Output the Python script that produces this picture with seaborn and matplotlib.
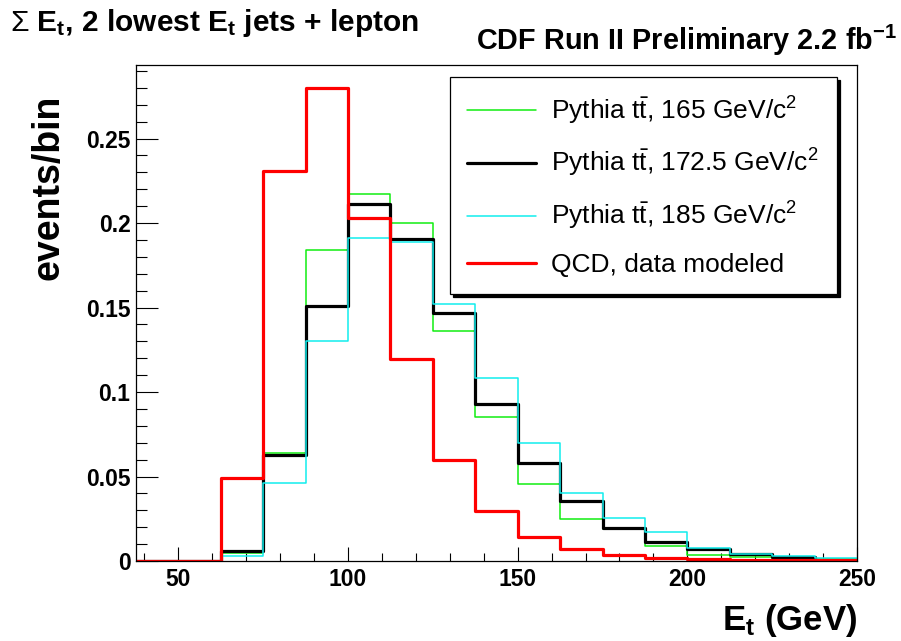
import matplotlib
matplotlib.use("Agg")
import matplotlib.pyplot as plt
from matplotlib.ticker import MultipleLocator, FuncFormatter
import numpy as np
import pandas as pd
import seaborn as sns

# ---- data ----
bin_edges = [37.5, 50, 62.5, 75, 87.5, 100, 112.5, 125, 137.5, 150,
             162.5, 175, 187.5, 200, 212.5, 225, 237.5, 250]
ttbar_165 = [0, 0, 0.005, 0.064, 0.184, 0.217, 0.200, 0.136, 0.085, 0.0455,
             0.025, 0.019, 0.009, 0.0036, 0.0024, 0.002, 0.001]
ttbar_1725 = [0, 0, 0.006, 0.063, 0.151, 0.211, 0.1905, 0.147, 0.093, 0.058,
              0.0355, 0.0195, 0.011, 0.007, 0.004, 0.0026, 0.0005]
ttbar_185 = [0, 0, 0.003, 0.046, 0.130, 0.191, 0.189, 0.152, 0.108, 0.070,
             0.040, 0.0255, 0.017, 0.0077, 0.004, 0.003, 0.002]
qcd = [0, 0, 0.049, 0.231, 0.280, 0.203, 0.1195, 0.060, 0.0296, 0.014,
       0.007, 0.0036, 0.0018, 0.001, 0.0004, 0.0003, 0.0003]

labels = [r"Pythia t$\mathrm{\bar{t}}$, 165 GeV/c$^{2}$",
          r"Pythia t$\mathrm{\bar{t}}$, 172.5 GeV/c$^{2}$",
          r"Pythia t$\mathrm{\bar{t}}$, 185 GeV/c$^{2}$",
          "QCD, data modeled"]
series = [ttbar_165, ttbar_1725, ttbar_185, qcd]
colors = ["#11ee11", "#000000", "#11eeee", "#ff0000"]
widths = [1.1, 2.3, 1.1, 2.3]

# ---- style ----
sns.set_style("ticks")
plt.rcParams["font.family"] = ["Liberation Sans", "DejaVu Sans"]
plt.rcParams["mathtext.fontset"] = "custom"
plt.rcParams["mathtext.rm"] = "Liberation Sans"
plt.rcParams["mathtext.it"] = "Liberation Sans:italic"
plt.rcParams["mathtext.bf"] = "Liberation Sans:bold"
for k in ["text.color", "axes.labelcolor", "xtick.color", "ytick.color", "axes.edgecolor"]:
    plt.rcParams[k] = "black"

fig = plt.figure(figsize=(9.01, 6.41), dpi=100)
ax = fig.add_axes([136/901, 1-561/641, (857-136)/901, (561-65)/641])

centers = [(a + b) / 2 for a, b in zip(bin_edges[:-1], bin_edges[1:])]
for vals, lab, col, lw in zip(series, labels, colors, widths):
    df = pd.DataFrame({"Et": centers, "w": vals})
    sns.histplot(data=df, x="Et", weights="w", bins=list(bin_edges), element="step",
                 fill=False, color=col, linewidth=lw, label=lab, ax=ax)

ax.set_xlim(37.5, 250)
ax.set_ylim(0, 0.2935)
ax.xaxis.set_major_locator(MultipleLocator(50))
ax.xaxis.set_minor_locator(MultipleLocator(10))
ax.yaxis.set_major_locator(MultipleLocator(0.05))
ax.yaxis.set_minor_locator(MultipleLocator(0.01))
ax.yaxis.set_major_formatter(FuncFormatter(lambda v, p: "%g" % round(v, 4)))
ax.tick_params(axis="both", which="both", direction="in", width=0.8,
               bottom=True, left=True, top=False, right=False, colors="black")
ax.tick_params(axis="y", which="major", length=16, pad=4)
ax.tick_params(axis="y", which="minor", length=8)
ax.tick_params(axis="x", which="major", length=10, pad=5)
ax.tick_params(axis="x", which="minor", length=6)
for t in ax.get_xticklabels() + ax.get_yticklabels():
    t.set_fontsize(16.5)
    t.set_fontweight("bold")
for s in ax.spines.values():
    s.set_visible(True)
    s.set_linewidth(0.9)
    s.set_color("black")

ax.set_ylabel("events/bin", fontsize=27, fontweight="bold", loc="top")
ax.yaxis.set_label_coords(-0.096, 0.94)
ax.set_xlabel(r"E$_{\mathbf{t}}$ (GeV)", fontsize=25, fontweight="bold", loc="right")
ax.xaxis.set_label_coords(1.0, -0.082)

fig.text(10/901, 1-31/641, r"$\Sigma$ E$_{\mathbf{t}}$, 2 lowest E$_{\mathbf{t}}$ jets + lepton",
         fontsize=21.5, fontweight="bold", ha="left", va="baseline")
fig.text(897/901, 1-50/641, r"CDF Run II Preliminary 2.2 fb$^{\mathbf{-1}}$",
         fontsize=20.8, fontweight="bold", ha="right", va="baseline")

leg = ax.legend(loc="upper left",
                bbox_to_anchor=(450/901, 1-292/641, 387/901, 215/641),
                bbox_transform=fig.transFigure, borderaxespad=0, mode="expand",
                fontsize=19, frameon=True, fancybox=False,
                shadow={"color": "black", "alpha": 1},
                handlelength=2.6, handletextpad=0.56, labelspacing=0.78,
                borderpad=0.66)
leg.get_frame().set_edgecolor("black")
leg.get_frame().set_linewidth(0.9)

fig.savefig("out.png", dpi=100)
